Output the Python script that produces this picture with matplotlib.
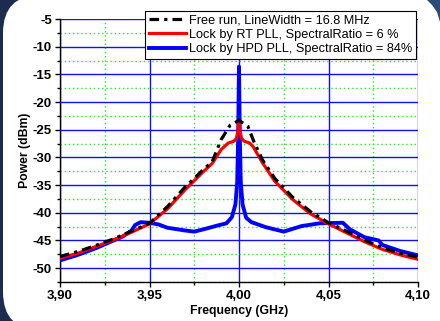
import matplotlib
matplotlib.use('Agg')
import matplotlib.pyplot as plt
import numpy as np
from matplotlib.patches import FancyBboxPatch, Polygon
from matplotlib.transforms import IdentityTransform
from matplotlib.ticker import MultipleLocator, FuncFormatter

plt.rcParams['font.family'] = ['Liberation Sans', 'DejaVu Sans']

# Free run (black dash-dot)
f_free = [3.900, 3.910, 3.920, 3.930, 3.940, 3.950, 3.960, 3.970, 3.975, 3.980,
          3.985, 3.990, 3.995, 4.000, 4.005, 4.008, 4.013, 4.020, 4.030, 4.040,
          4.050, 4.060, 4.070, 4.080, 4.090, 4.100]
p_free = [-47.9, -47.0, -45.9, -44.7, -43.3, -41.9, -38.9, -35.3, -33.8, -32.2,
          -30.8, -26.8, -24.2, -23.3, -24.4, -26.9, -30.4, -33.8, -37.2, -39.8,
          -41.8, -43.3, -44.9, -46.3, -47.3, -48.0]

# Lock by RT PLL (red)
f_rt = [3.900, 3.910, 3.920, 3.930, 3.940, 3.950, 3.960, 3.970, 3.975, 3.980,
        3.985, 3.990, 3.994, 3.997, 3.9985, 3.9995, 4.000, 4.0005, 4.0015, 4.003,
        4.006, 4.008, 4.013, 4.020, 4.030, 4.040, 4.050, 4.060, 4.070, 4.080,
        4.090, 4.100]
p_rt = [-48.2, -47.3, -46.1, -44.9, -43.5, -42.0, -39.3, -35.8, -34.2, -32.6,
        -31.1, -28.6, -27.4, -27.1, -26.6, -25.2, -23.8, -25.2, -26.6, -27.1,
        -27.4, -28.1, -30.9, -34.3, -37.6, -40.2, -42.0, -43.6, -45.2, -46.6,
        -47.6, -48.4]

# Lock by HPD PLL (blue)
f_hpd = [3.900, 3.910, 3.920, 3.930, 3.935, 3.940, 3.942, 3.945, 3.950, 3.955,
         3.960, 3.970, 3.975, 3.980, 3.988, 3.993, 3.996, 3.998, 3.999, 3.9995,
         3.9998, 4.000, 4.0002, 4.0005, 4.001, 4.002, 4.004, 4.007, 4.015, 4.025,
         4.035, 4.045, 4.058, 4.062, 4.070, 4.078, 4.080, 4.090, 4.100]
p_hpd = [-48.6, -47.6, -46.4, -45.0, -44.3, -43.2, -42.2, -41.7, -41.8, -42.1,
         -42.7, -43.2, -43.4, -43.0, -42.3, -41.9, -40.8, -38.5, -34.5, -27.0,
         -19.0, -13.6, -19.0, -27.0, -34.5, -38.5, -40.9, -41.7, -42.6, -43.4,
         -42.4, -41.9, -41.8, -43.0, -44.4, -45.0, -45.8, -46.9, -47.7]

labels = ['Free run, LineWidth = 16.8 MHz',
          'Lock by RT PLL, SpectralRatio = 6 %',
          'Lock by HPD PLL, SpectralRatio = 84%']

W, H = 440, 321
fig = plt.figure(figsize=(W / 100, H / 100), dpi=100)
fig.patch.set_facecolor('#1c2c4e')

# white rounded panel behind the chart (pixel coordinates)
panel = FancyBboxPatch((3, -9), 500, 335,
                       boxstyle='round,pad=0,rounding_size=38',
                       transform=IdentityTransform(), facecolor='white',
                       edgecolor='none', zorder=-10)
fig.patches.append(panel)
corner = Polygon([(427, H), (W, H), (W, H - 22), (437, H - 12), (432, H - 5)],
                 closed=True, transform=IdentityTransform(),
                 facecolor='#2c4a7a', edgecolor='none', zorder=-9)
fig.patches.append(corner)

ax = fig.add_axes([60 / W, 1 - 282 / H, 358 / W, 263 / H])
ax.set_facecolor('white')

ax.plot(f_hpd, p_hpd, color='#0000ff', lw=2.8, label=labels[2], zorder=3)
ax.plot(f_rt, p_rt, color='#ff0000', lw=2.3, label=labels[1], zorder=4)
ax.plot(f_free, p_free, color='black', lw=2.3, linestyle=(0, (3, 1.6, 1, 1.6)),
        label=labels[0], zorder=5)

ax.set_xlim(3.90, 4.10)
ax.set_ylim(-52.5, -5)
ax.xaxis.set_major_locator(MultipleLocator(0.05))
ax.xaxis.set_minor_locator(MultipleLocator(0.025))
ax.yaxis.set_major_locator(MultipleLocator(5))
ax.yaxis.set_minor_locator(MultipleLocator(2.5))
ax.xaxis.set_major_formatter(FuncFormatter(lambda v, p: f'{v:.2f}'.replace('.', ',')))
ax.yaxis.set_major_formatter(FuncFormatter(lambda v, p: f'{v:.0f}'))

ax.grid(True, which='major', color='#1010ff', lw=1.0, linestyle='-')
ax.grid(True, which='minor', color='#22ee22', lw=1.0, linestyle=(0, (1, 2)))
for t in ax.yaxis.get_major_ticks():
    if abs(t.get_loc() + 5) < 1e-6:
        t.gridline.set_visible(False)
for t in ax.xaxis.get_major_ticks():
    if abs(t.get_loc() - 3.90) < 1e-6 or abs(t.get_loc() - 4.10) < 1e-6:
        t.gridline.set_visible(False)
for t in ax.yaxis.get_minor_ticks():
    if abs(t.get_loc() + 52.5) < 1e-6:
        t.gridline.set_visible(False)

for s in ['top', 'right']:
    ax.spines[s].set_visible(False)
for s in ['left', 'bottom']:
    ax.spines[s].set_linewidth(1.0)
ax.tick_params(which='major', direction='out', length=3.8, width=1, labelsize=9.5, pad=2)
ax.tick_params(which='minor', direction='out', length=2.2, width=1)
for lab in ax.get_xticklabels() + ax.get_yticklabels():
    lab.set_fontweight('bold')

ax.set_xlabel('Frequency (GHz)', fontsize=8.8, fontweight='bold', labelpad=2)
ax.set_ylabel('Power (dBm)', fontsize=8.8, fontweight='bold', labelpad=1)

h, l = ax.get_legend_handles_labels()
leg = ax.legend(h[::-1], l[::-1], loc='upper right', bbox_to_anchor=(0.994, 1.03),
                borderaxespad=0, fontsize=9.2, frameon=True, fancybox=False,
                edgecolor='black', framealpha=1, handlelength=2.9,
                handletextpad=0.3, labelspacing=0.2, borderpad=0.25)
leg.get_frame().set_linewidth(0.8)
leg.set_zorder(10)

fig.savefig('out.png', dpi=100, facecolor=fig.get_facecolor())
